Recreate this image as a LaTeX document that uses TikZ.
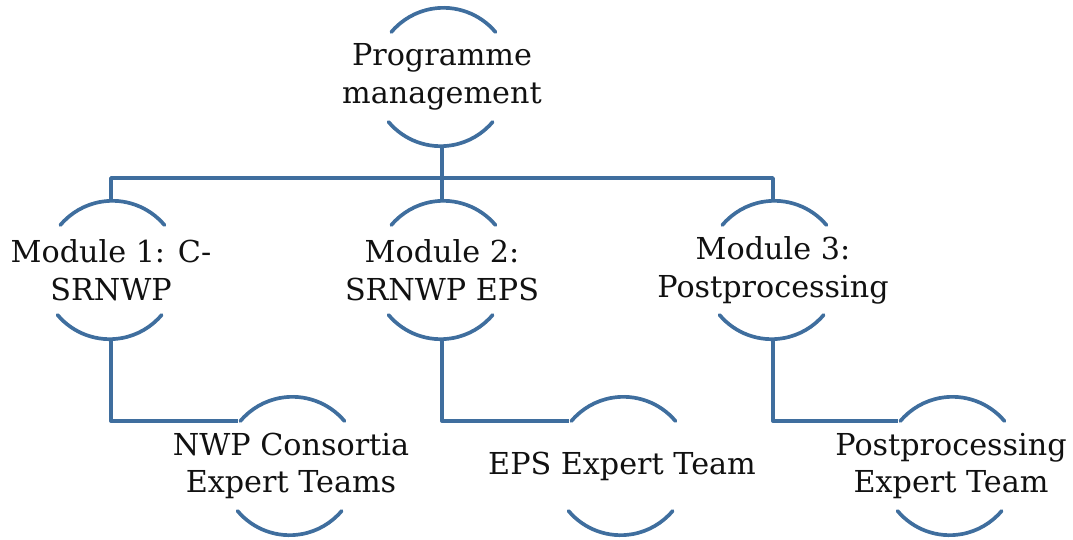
\documentclass[tikz,border=0pt]{standalone}
\usepackage{fontspec}
\setmainfont{DejaVu Serif}
\definecolor{ringblue}{HTML}{3F6E9E}
\definecolor{ink}{HTML}{111111}

\begin{document}
\begin{tikzpicture}[
  x=0.02cm,y=0.02cm,
  line width=2.1pt,line cap=round,line join=round,
  ring/.style={circle,minimum size=2.72cm,inner sep=0pt,draw=none},
  label/.style={align=center,text=ink,inner sep=0pt,
    font=\fontsize{17.2}{21.5}\selectfont},
  link/.style={draw=ringblue,line cap=butt}
]
\useasboundingbox (0,0) rectangle (1073,539);

% Top of the hierarchy.
\node[ring] (prog) at (442,462) {};
\node[label] (prog-t) at (prog) {Programme\\management};

% Modules on one row.
\node[ring] (m1) at (111,269) {};
\node[ring] (m2) at (442,269) {};
\node[ring] (m3) at (773,269) {};
\node[label] (m1-t) at (m1) {Module 1: C-\\SRNWP};
\node[label] (m2-t) at (m2) {Module 2:\\SRNWP EPS};
\node[label] (m3-t) at (m3) {Module 3:\\Postprocessing};

% Expert teams, shifted right below their module.
\node[ring] (e1) at (291,73) {};
\node[ring] (e2) at (622,73) {};
\node[ring] (e3) at (951,73) {};
\node[label] (e1-t) at (e1) {NWP Consortia\\Expert Teams};
\node[label] (e2-t) at (e2) {EPS Expert Team};
\node[label] (e3-t) at (e3) {Postprocessing\\Expert Team};

% Bus under the top node.
\coordinate (bus) at (442,361);
\draw[link] (prog.south) -- (m2.north);
\draw[link] (m1.north) -- (m1.north |- bus) -- (m3.north |- bus) -- (m3.north);

% Elbows down to the teams.
\draw[link] (m1.south) |- (e1.140);
\draw[link] (m2.south) |- (e2.140);
\draw[link] (m3.south) |- (e3.140);

% Only the upper and lower arcs of each ring are drawn.
\foreach \n in {prog,m1,m2,m3,e1,e2,e3} {
  \draw[ringblue] (\n.40) arc[start angle=40,end angle=140,radius=68];
  \draw[ringblue] (\n.220) arc[start angle=220,end angle=320,radius=68];
}
\end{tikzpicture}
\end{document}
